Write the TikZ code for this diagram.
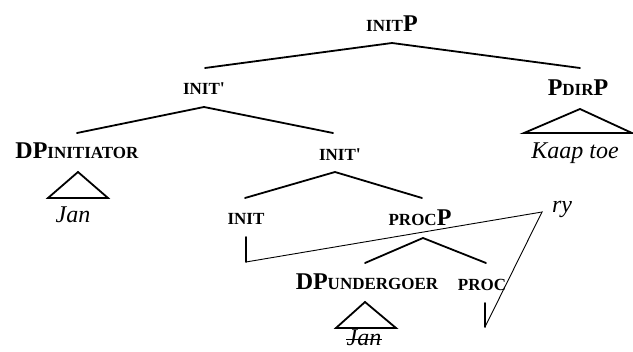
\documentclass[tikz,border=0pt]{standalone}
\usepackage{fontspec}
\setmainfont{Liberation Serif}
\newfontfamily\plainserif{Liberation Serif}
\newcommand\smc[1]{{\fontsize{17}{17}\selectfont\bfseries #1}}
\newcommand\bgc[1]{{\fontsize{24}{24}\selectfont\bfseries #1}}
\newcommand\itl[1]{{\fontsize{24}{24}\selectfont\itshape #1}}
\newcommand\prm{{\plainserif\fontsize{18}{18}\selectfont\bfseries\char"0027}}
\begin{document}
\begin{tikzpicture}[x=1pt,y=-1pt,
  lbl/.style={inner sep=0pt, anchor=base},
  br/.style={line width=1.8pt, line cap=round},
  mv/.style={line width=0.9pt, line join=miter},
  tri/.style={line width=1.8pt, line join=miter}]
\useasboundingbox (0,0) rectangle (633,352);
% labels
\node[lbl] (initP) at (392,32) {\smc{INIT}\bgc{P}};
\node[lbl] (initb1) at (204,95) {\smc{INIT}\prm};
\node[lbl] (pdirP) at (578,96) {\bgc{P}\smc{DIR}\bgc{P}};
\node[lbl] (dpi) at (77,159) {\bgc{DP}\smc{INITIATOR}};
\node[lbl] (kaap) at (575,159) {\itl{Kaap toe}};
\node[lbl] (initb2) at (340,161) {\smc{INIT}\prm};
\node[lbl] (jan1) at (73,223) {\itl{Jan}};
\node[lbl] (init) at (246,225) {\smc{INIT}};
\node[lbl] (procP) at (420,226) {\smc{PROC}\bgc{P}};
\node[lbl] (ry) at (562,213) {\itl{ry}};
\node[lbl] (dpu) at (367,290) {\bgc{DP}\smc{UNDERGOER}};
\node[lbl] (proc) at (482,291) {\smc{PROC}};
\node[lbl] (jan2) at (364,346) {\itl{Jan}};
% branch points
\coordinate (a0) at (392,43);
\coordinate (a0l) at (205,68);
\coordinate (a0r) at (580,68);
\coordinate (a1) at (204,107);
\coordinate (a1l) at (77,133);
\coordinate (a1r) at (333,133);
\coordinate (a2) at (335,172);
\coordinate (a2l) at (245,198);
\coordinate (a2r) at (422,198);
\coordinate (a3) at (423,238);
\coordinate (a3l) at (365,263);
\coordinate (a3r) at (486,263);
% tree branches
\draw[br] (a0l) -- (a0) -- (a0r);
\draw[br] (a1l) -- (a1) -- (a1r);
\draw[br] (a2l) -- (a2) -- (a2r);
\draw[br] (a3l) -- (a3) -- (a3r);
% triangles
\coordinate (t1) at (580,109);
\coordinate (t1l) at (524,133);
\coordinate (t1r) at (632,133);
\draw[tri] (t1) -- (t1l) -- (t1r) -- cycle;
\coordinate (t2) at (78,172);
\coordinate (t2l) at (48,198);
\coordinate (t2r) at (108,198);
\draw[tri] (t2) -- (t2l) -- (t2r) -- cycle;
\coordinate (t3) at (365,302);
\coordinate (t3l) at (336,328);
\coordinate (t3r) at (396,328);
\draw[tri] (t3) -- (t3l) -- (t3r) -- cycle;
% traces
\coordinate (v1) at (246,237);
\coordinate (v1b) at (246,262);
\coordinate (v2) at (485,303);
\coordinate (v2b) at (485,327);
\coordinate (c) at (542,212);
\draw[br] (v1) -- (v1b);
\draw[br] (v2) -- (v2b);
\draw[mv] (v1b) -- (c) -- (v2b);
% strike-through
\draw[mv] ([yshift=7pt]jan2.base west) -- ([yshift=7pt]jan2.base east);
\end{tikzpicture}
\end{document}
